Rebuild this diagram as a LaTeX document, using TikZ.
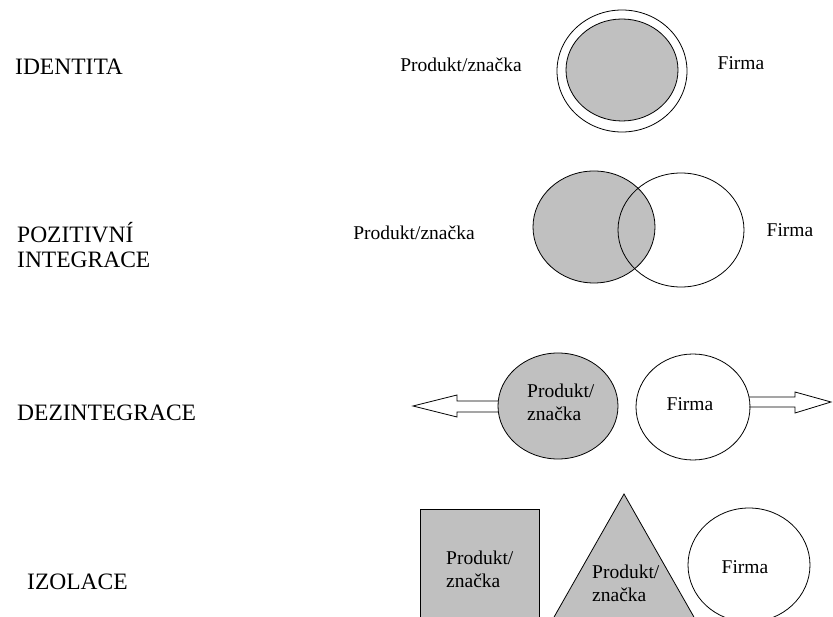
\documentclass[tikz,border=0pt]{standalone}
\usepackage{fontspec}
\setmainfont{Liberation Serif}
\usepackage{tikz}
\usetikzlibrary{positioning}
\definecolor{shadegray}{RGB}{192,192,192}

\begin{document}
\begin{tikzpicture}[x=1pt, y=-1pt,
    rowlabel/.style={anchor=west, inner sep=0pt, font=\fontsize{23.5}{25}\selectfont, align=left},
    txt/.style={inner sep=0pt, font=\fontsize{19.5}{23}\selectfont, align=left},
    shaded/.style={draw=black, line width=0.8pt, fill=shadegray},
    plain/.style={draw=black, line width=0.8pt},
    blockarrow/.style={draw=black, line width=0.8pt, fill=white}]
    \useasboundingbox (0,0) rectangle (833,617);
    \clip (0,0) rectangle (833,617);

    % nazvy radku
    \node[rowlabel] (identita) at (15,67) {IDENTITA};
    \node[rowlabel] (pozitivni) at (17,245) {POZITIVNÍ\\INTEGRACE};
    \node[rowlabel] (dezintegrace) at (17,413) {DEZINTEGRACE};
    \node[rowlabel] (izolace) at (27,582) {IZOLACE};

    % identita
    \draw[plain] (622,71) ellipse [x radius=65pt, y radius=61pt];
    \draw[shaded] (622,70) ellipse [x radius=56pt, y radius=51pt];
    \node[txt] (produkt1) at (461,65) {Produkt/značka};
    \node[txt] (firma1) at (741,63) {Firma};

    % pozitivni integrace
    \draw[shaded] (594,227) ellipse [x radius=61pt, y radius=56pt];
    \draw[plain] (681,230) ellipse [x radius=63pt, y radius=57pt];
    \node[txt] (produkt2) at (414,233) {Produkt/značka};
    \node[txt] (firma2) at (790,230) {Firma};

    % dezintegrace
    \draw[blockarrow] (499,401) -- (457,401) -- (457,395) -- (413,406)
        -- (457,417) -- (457,412) -- (499,412);
    \draw[blockarrow] (749,397) -- (795,397) -- (795,392) -- (831,402)
        -- (795,413) -- (795,407) -- (749,407);
    \draw[shaded] (558,406) ellipse [x radius=60pt, y radius=53pt];
    \draw[plain] (693,407) ellipse [x radius=57pt, y radius=53pt];
    \node[txt, anchor=west] (produkt3) at (527,402) {Produkt/\\značka};
    \node[txt] (firma3) at (690,404) {Firma};

    % izolace
    \draw[shaded] (420,509) rectangle (539,640);
    \draw[shaded] (624,494) -- (541,640) -- (707,640) -- cycle;
    \draw[plain] (749,565) ellipse [x radius=61pt, y radius=57pt];
    \node[txt, anchor=west] (produkt4) at (446,569) {Produkt/\\značka};
    \node[txt, anchor=west] (produkt5) at (592,583) {Produkt/\\značka};
    \node[txt] (firma4) at (745,567) {Firma};
\end{tikzpicture}
\end{document}
